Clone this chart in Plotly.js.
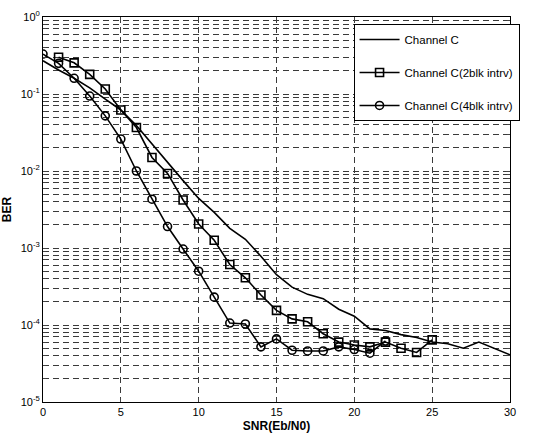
<!DOCTYPE html>
<html>
<head>
<meta charset="utf-8">
<script src="https://cdn.plot.ly/plotly-3.0.1.min.js"></script>
<style>html,body{margin:0;padding:0;background:#fff;}#chart{width:544px;height:437px;}</style>
</head>
<body>
<div id="chart"></div>
<script>
// ---- data ----
const snrC = [0,1,2,3,4,5,6,7,8,9,10,11,12,13,14,15,16,17,18,19,20,21,22,23,24,25,26,27,28,29,30];
const berC = [0.27,0.205,0.16,0.12,0.086,0.062,0.039,0.0224,0.013,0.0075,0.0044,0.0029,0.0018,0.0013,0.00078,0.00045,0.00031,0.00025,0.00022,0.00016,0.00013,0.000089,0.000085,0.000075,0.000069,0.00006,0.000057,0.00005,0.00006,0.00005,0.000041];

const snr2 = [1,2,3,4,5,6,7,8,9,10,11,12,13,14,15,16,17,18,19,20,21,22,23,24,25];
const ber2 = [0.30,0.254,0.18,0.116,0.062,0.0367,0.015,0.0093,0.0042,0.00205,0.00126,0.00061,0.00041,0.000245,0.000155,0.00012,0.00011,0.000077,0.00006,0.000055,0.000052,0.00006,0.00005,0.000044,0.000064];

const snr4 = [0,1,2,3,4,5,6,7,8,9,10,11,12,13,14,15,16,17,18,19,20,21,22];
const ber4 = [0.33,0.25,0.16,0.094,0.052,0.026,0.010,0.0043,0.0019,0.00097,0.0005,0.00023,0.000106,0.000103,0.000052,0.000066,0.000047,0.000046,0.000046,0.000052,0.000048,0.000043,0.000062];

const names = ['Channel C','Channel C(2blk intrv)','Channel C(4blk intrv)'];
const yTickVals = [1,0.1,0.01,0.001,0.0001,0.00001];
const yTickText = ['10<sup>0</sup>','10<sup>-1</sup>','10<sup>-2</sup>','10<sup>-3</sup>','10<sup>-4</sup>','10<sup>-5</sup>'];
const xTickVals = [0,5,10,15,20,25,30];

const lineStyle = {color:'#000', width:1.6};
const traces = [
  {x:snrC, y:berC, name:names[0], mode:'lines', line:lineStyle, legendgroup:'a'},
  {x:snr2, y:ber2, name:names[1], mode:'lines+markers', line:lineStyle,
   marker:{symbol:'square-open', size:8, color:'#000', line:{width:1.6}}, legendgroup:'b'},
  {x:snr4, y:ber4, name:names[2], mode:'lines+markers', line:lineStyle,
   marker:{symbol:'circle-open', size:8, color:'#000', line:{width:1.6}}, legendgroup:'c'}
];

const gridCol = '#3a3a3a';
const layout = {
  width:544, height:437,
  margin:{l:43, r:34, t:17, b:35},
  paper_bgcolor:'#fff', plot_bgcolor:'#fff',
  font:{family:'Liberation Sans, Arial, sans-serif', size:11, color:'#000'},
  showlegend:true,
  legend:{x:0.665, y:0.982, xanchor:'left', yanchor:'top', bgcolor:'#fff',
          bordercolor:'#000', borderwidth:1, font:{size:11.5}, tracegroupgap:14,
          itemwidth:40},
  xaxis:{range:[0,30], tickvals:xTickVals, ticks:'inside', ticklen:4, mirror:'ticks',
         showline:true, linecolor:'#000', linewidth:1,
         showgrid:true, gridcolor:gridCol, griddash:'6px,4px', gridwidth:1, zeroline:false,
         title:{text:'<b>SNR(Eb/N0)</b>', font:{size:12}, standoff:4},
         tickfont:{size:11}},
  yaxis:{type:'log', range:[-5,0], tickvals:yTickVals, ticktext:yTickText,
         ticks:'inside', ticklen:4, mirror:'ticks', showline:true, linecolor:'#000', linewidth:1,
         showgrid:true, gridcolor:gridCol, griddash:'6px,4px', gridwidth:1, zeroline:false,
         minor:{dtick:'D1', showgrid:true, gridcolor:gridCol, griddash:'6px,4px', gridwidth:1, ticks:'inside', ticklen:3},
         title:{text:'<b>BER</b>', font:{size:12}, standoff:6},
         tickfont:{size:11}}
};

Plotly.newPlot('chart', traces, layout, {displayModeBar:false, staticPlot:true});
</script>
</body>
</html>
